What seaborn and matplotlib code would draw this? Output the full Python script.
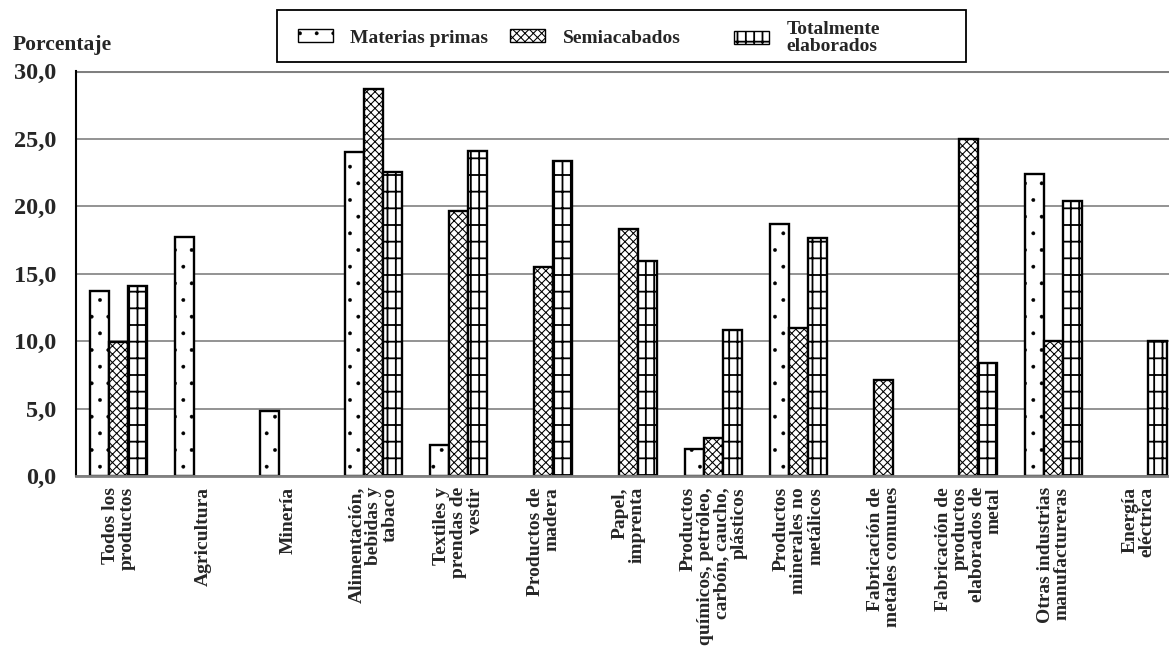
import matplotlib
matplotlib.use("Agg")
import matplotlib.pyplot as plt
import seaborn as sns
import numpy as np
import pandas as pd
from matplotlib.patches import Patch, Rectangle
from matplotlib.ticker import FuncFormatter, MultipleLocator

sns.set_style("white")
plt.rcParams["font.family"] = ["Liberation Serif", "DejaVu Serif"]
plt.rcParams["font.weight"] = "bold"
plt.rcParams["hatch.linewidth"] = 0.8

categorias = [
    "Todos los\nproductos",
    "Agricultura",
    "Minería",
    "Alimentación,\nbebidas y\ntabaco",
    "Textiles y\nprendas de\nvestir",
    "Productos de\nmadera",
    "Papel,\nimprenta",
    "Productos\nquímicos, petróleo,\ncarbón, caucho,\nplásticos",
    "Productos\nminerales no\nmetálicos",
    "Fabricación de\nmetales comunes",
    "Fabricación de\nproductos\nelaborados de\nmetal",
    "Otras industrias\nmanufactureras",
    "Energía\neléctrica",
]
series = ["Materias primas", "Semiacabados", "Totalmente\nelaborados"]
materias_primas = [13.7, 17.7, 4.8, 24.0, 2.3, np.nan, np.nan, 2.0, 18.7, np.nan, np.nan, 22.4, np.nan]
semiacabados = [9.9, np.nan, np.nan, 28.7, 19.6, 15.5, 18.3, 2.8, 11.0, 7.1, 25.0, 10.0, np.nan]
totalmente = [14.1, np.nan, np.nan, 22.5, 24.1, 23.3, 15.9, 10.8, 17.6, np.nan, 8.4, 20.4, 10.0]
hatches = [".", "xxxx", "||-"]
hatch_lw = [0.3, 0.75, 1.3]


def set_hlw(patch, lw):
    # hatch linewidth per patch (3.10 keeps it on the artist)
    if hasattr(patch, "set_hatch_linewidth"):
        patch.set_hatch_linewidth(lw)
    else:
        patch._hatch_linewidth = lw


df = pd.DataFrame({
    "categoria": categorias * 3,
    "tipo": [series[0]] * 13 + [series[1]] * 13 + [series[2]] * 13,
    "valor": materias_primas + semiacabados + totalmente,
})

fig = plt.figure(figsize=(11.69, 6.52), dpi=100)
ax = fig.add_axes([76 / 1169, 176 / 652, 1105 / 1169, 405 / 652])

sns.barplot(data=df, x="categoria", y="valor", hue="tipo", order=categorias,
            hue_order=series, palette=["white"] * 3, edgecolor="black",
            linewidth=1.7, width=0.68, gap=0, ax=ax, legend=False)

for cont, h, lw in zip(ax.containers, hatches, hatch_lw):
    for bar in cont:
        bar.set_hatch(h)
        set_hlw(bar, lw)

ax.set_ylim(0, 30)
ax.yaxis.set_major_locator(MultipleLocator(5))
ax.yaxis.set_major_formatter(FuncFormatter(lambda v, p: f"{v:.1f}".replace(".", ",")))
ax.grid(axis="y", color="#808080", linewidth=1.2)
ax.set_axisbelow(True)
ax.set_xlabel("")
ax.set_ylabel("")
for s in ["top", "right"]:
    ax.spines[s].set_visible(False)
ax.spines["left"].set_color("black")
ax.spines["left"].set_linewidth(1.5)
ax.spines["bottom"].set_color("#808080")
ax.spines["bottom"].set_linewidth(2)
ax.axhline(30, color="#808080", linewidth=2.2, zorder=0.5)

ax.tick_params(axis="y", length=8, width=1.2, color="#606060", labelsize=17.5, pad=6)
ax.tick_params(axis="x", length=0, labelsize=14, pad=8)
for lbl in ax.get_xticklabels():
    lbl.set_rotation(90)
    lbl.set_ha("center")
    lbl.set_va("top")
    lbl.set_multialignment("right")
    lbl.set_linespacing(1.0)

fig.text(13 / 1169, 1 - 45 / 652, "Porcentaje", fontsize=15.5, fontweight="bold", va="center")

# legend: frame drawn separately, three entries placed along it
fig.add_artist(Rectangle((277 / 1169, 1 - 62 / 652), 689 / 1169, 52 / 652,
                         transform=fig.transFigure, fill=False,
                         edgecolor="black", linewidth=1.3))
leg_x = [298, 510, 734]
for lab, h, lw, x0 in zip(series, hatches, hatch_lw, leg_x):
    hp = Patch(facecolor="white", edgecolor="black", hatch=h, linewidth=1.0)
    set_hlw(hp, lw)
    lg = fig.legend([hp], [lab], loc="center left",
                    bbox_to_anchor=(x0 / 1169, 1 - 38 / 652),
                    fontsize=14, frameon=False, borderpad=0, borderaxespad=0,
                    handlelength=1.8, handleheight=0.6, handletextpad=0.9)
    for t in lg.get_texts():
        t.set_linespacing(0.95)
    for lh in lg.legend_handles:
        set_hlw(lh, lw)

fig.savefig("out.png", dpi=100)
